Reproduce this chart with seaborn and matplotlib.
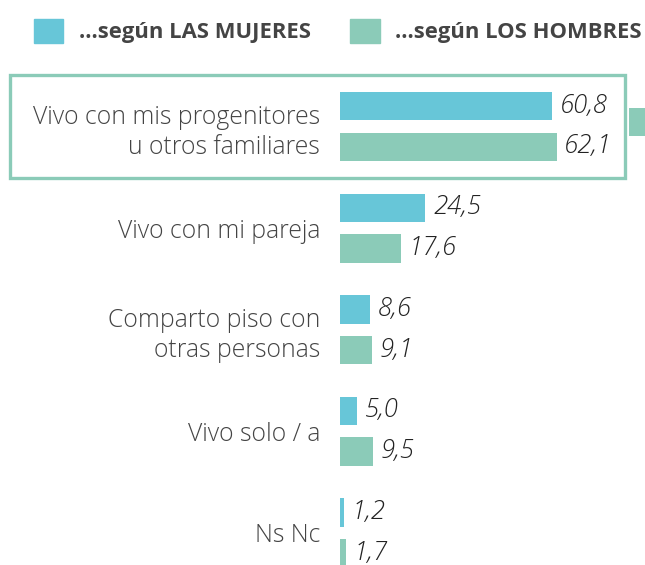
import pandas as pd
import matplotlib.pyplot as plt
import seaborn as sns
from matplotlib.patches import Rectangle

categorias = ["Vivo con mis progenitores\nu otros familiares", "Vivo con mi pareja",
              "Comparto piso con\notras personas", "Vivo solo / a", "Ns Nc"]
mujeres = [60.8, 24.5, 8.6, 5.0, 1.2]
hombres = [62.1, 17.6, 9.1, 9.5, 1.7]
series = ["...según LAS MUJERES", "...según LOS HOMBRES"]
colores = ["#67c6d8", "#8bcbb8"]

df = pd.DataFrame({
    "categoria": categorias * 2,
    "valor": mujeres + hombres,
    "grupo": [series[0]] * len(categorias) + [series[1]] * len(categorias),
})

W, H = 645, 565
fig = plt.figure(figsize=(W / 100, H / 100), dpi=100)
# axes: bars start at x=340px, category 0 centred at y=126.5px, 101.6px per category
ax = fig.add_axes([340 / W, 0, 1 - 340 / W, 1])
sns.barplot(data=df, y="categoria", x="valor", hue="grupo", palette=colores,
            saturation=1, orient="h", width=0.8, gap=0.3, ax=ax, legend=False)

px_unit = 212 / 60.8
ax.set_xlim(0, (W - 340) / px_unit)
top = -126.5 / 101.6
ax.set_ylim(top + H / 101.6, top)

for cont in ax.containers:
    ax.bar_label(cont, labels=[f"{v:.1f}".replace(".", ",") for v in cont.datavalues],
                 padding=5.5, fontsize=18.5, fontstyle="italic", fontweight="light",
                 color="#222222", family="Open Sans")

ax.set_xlabel("")
ax.set_ylabel("")
ax.set_xticks([])
ax.tick_params(axis="y", length=0, pad=14.4, labelsize=17.8, labelcolor="#444444")
for t in ax.get_yticklabels():
    t.set_family("Open Sans")
    t.set_fontweight("light")
    t.set_linespacing(1.3)
for s in ax.spines.values():
    s.set_visible(False)

handles = [Rectangle((0, 0), 1, 1, color=c) for c in colores]
leg = fig.legend(handles, series, loc="upper left", bbox_to_anchor=(14 / W, 1 + 1 / H),
                 ncol=2, frameon=False, handlelength=1.35, handleheight=1.35,
                 handletextpad=0.7, columnspacing=1.8,
                 prop={"family": "Open Sans", "weight": "bold", "size": 15.8})
for t in leg.get_texts():
    t.set_color("#444444")

# highlight box around first category
fig.add_artist(Rectangle((10 / W, 1 - 178 / H), 615 / W, 103 / H, transform=fig.transFigure,
                         fill=False, edgecolor="#8bcbb8", linewidth=2.4, zorder=5))
fig.add_artist(Rectangle((629 / W, 1 - 136 / H), 16 / W, 28 / H, transform=fig.transFigure,
                         facecolor="#8bcbb8", edgecolor="none", zorder=5))

fig.savefig("out.png", dpi=100)
